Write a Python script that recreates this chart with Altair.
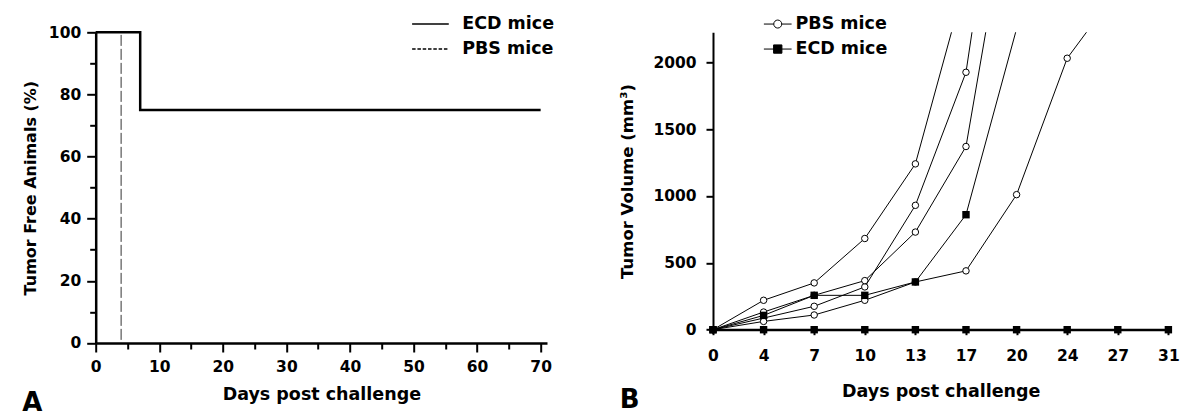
import altair as alt
import pandas as pd

FONT = "DejaVu Sans"

# ---------------- Panel A : tumor free animals (%) ----------------
A_GROUPS = ["ECD mice", "PBS mice"]
A_ECD_DAYS = [0, 7, 70]
A_ECD_PCT = [100, 75, 75]
A_PBS_DAYS = [0, 4]
A_PBS_PCT = [100, 0]
A_X_TICKS = list(range(0, 75, 5))
A_Y_TICKS = list(range(0, 110, 10))

# ---------------- Panel B : tumor volume (mm3) ----------------
B_GROUPS = ["PBS mice", "ECD mice"]
B_DAYS = [0, 4, 7, 10, 13, 17, 20, 24, 27, 31]
PBS_1 = [0, 220, 350, 682, 1240, 2620]
PBS_2 = [0, 87, 175, 320, 930, 1925, 4450]
PBS_3 = [0, 132, 257, 367, 730, 1370, 3560]
PBS_4 = [0, 62, 110, 220, 357, 440, 1010, 2030, 2540]
ECD_1 = [0, 107, 257, 257, 357, 860, 2250]
ECD_0 = [0, 0, 0, 0, 0, 0, 0, 0, 0, 0]
B_Y_TICKS = [0, 500, 1000, 1500, 2000]
B_Y_MAX = 2224

# ---------------- tables ----------------
a_rows = []
for d, p in zip(A_ECD_DAYS, A_ECD_PCT):
    a_rows.append({"day": d, "pct": p, "grp": "ECD mice"})
for d, p in zip(A_PBS_DAYS, A_PBS_PCT):
    a_rows.append({"day": d, "pct": p, "grp": "PBS mice"})
a_df = pd.DataFrame(a_rows)

b_rows = []
for name, grp, vals in [("P1", "PBS mice", PBS_1), ("P2", "PBS mice", PBS_2),
                        ("P3", "PBS mice", PBS_3), ("P4", "PBS mice", PBS_4),
                        ("E1", "ECD mice", ECD_1), ("E0", "ECD mice", ECD_0)]:
    for d, v in zip(B_DAYS, vals):
        b_rows.append({"day": d, "vol": v, "mouse": name, "grp": grp})
b_df = pd.DataFrame(b_rows)

# ---------------- Panel A chart ----------------
a_base = alt.Chart(a_df)
a_x = alt.X("day:Q",
            scale=alt.Scale(domain=[0, 71], nice=False, zero=False),
            axis=alt.Axis(values=A_X_TICKS, title="Days post challenge",
                          labelExpr="datum.value % 10 === 0 ? datum.label : ''",
                          tickSize={"condition": {"test": "datum.value % 10 === 0", "value": 9}, "value": 6},
                          labelPadding=8, titlePadding=10, domainWidth=2.5, tickWidth=2,
                          labelFlush=False, labelOverlap=False))
a_y = alt.Y("pct:Q",
            scale=alt.Scale(domain=[0, 100], nice=False),
            axis=alt.Axis(values=A_Y_TICKS, title="Tumor Free Animals (%)",
                          labelExpr="datum.value % 20 === 0 ? datum.label : ''",
                          tickSize={"condition": {"test": "datum.value % 20 === 0", "value": 9}, "value": 6},
                          labelPadding=6, titlePadding=10, domainWidth=2.5, tickWidth=2,
                          titleFontSize=16, labelFlush=False, labelOverlap=False))

a_pbs = a_base.transform_filter("datum.grp === 'PBS mice'").mark_line(
    interpolate="step-after", color="#333", strokeWidth=1, strokeDash=[11, 3]
).encode(x=a_x, y=a_y)
a_ecd = a_base.transform_filter("datum.grp === 'ECD mice'").mark_line(
    interpolate="step-after", color="black", strokeWidth=2.5
).encode(x=a_x, y=a_y)
a_leg = a_base.transform_filter("false").mark_line(color="black").encode(
    x=a_x, y=a_y,
    strokeDash=alt.StrokeDash("grp:N",
        scale=alt.Scale(domain=A_GROUPS, range=[[1, 0], [3.5, 1.8]]),
        legend=alt.Legend(title=None, orient="none", legendX=326, legendY=-17,
                          symbolType="M-2.5,0L2.5,0", symbolSize=215,
                          symbolStrokeWidth=1.5, symbolStrokeColor="black",
                          labelOffset=23, rowPadding=6,
                          labelFont=FONT, labelFontSize=17.5, labelFontWeight="bold",
                          labelColor="black"))
)
panel_a = alt.layer(a_pbs, a_ecd, a_leg).properties(
    width=451.3, height=310.7,
    title=alt.TitleParams("A", orient="bottom", anchor="start", frame="bounds",
                          font=FONT, fontSize=26, fontWeight="bold", color="black", offset=-13)
)

# ---------------- Panel B chart ----------------
PBS_PATH = ("M-2,0L-0.578,0M0.578,0L2,0M0.578,0"
            "A0.578,0.578,0,1,1,-0.578,0A0.578,0.578,0,1,1,0.578,0Z")
ECD_PATH = "M-2,0L2,0M-0.6,-0.6L0.6,-0.6L0.6,0.6L-0.6,0.6Z"

b_base = alt.Chart(b_df)
b_x = alt.X("day:O",
            scale=alt.Scale(type="point", domain=B_DAYS, padding=0),
            axis=alt.Axis(title="Days post challenge", labelAngle=0, ticks=True, tickSize=5,
                          tickWidth=2, domainWidth=2, labelPadding=14, titlePadding=18,
                          labelFlush=False, labelOverlap=False))
b_y = alt.Y("vol:Q",
            scale=alt.Scale(domain=[0, B_Y_MAX], nice=False),
            axis=alt.Axis(values=B_Y_TICKS, title="Tumor Volume (mm³)", format="d",
                          tickSize=7, tickWidth=2, domainWidth=2, labelPadding=10,
                          titlePadding=17, titleFontSize=16.5, labelFlush=False,
                          labelOverlap=False))

b_lines = b_base.mark_line(clip=True, color="black", strokeWidth=1).encode(
    x=b_x, y=b_y, detail="mouse:N")
b_zero = b_base.transform_filter("datum.mouse === 'E0'").mark_line(
    color="black", strokeWidth=2).encode(x=b_x, y=b_y)
b_circ = b_base.transform_filter("datum.grp === 'PBS mice' && datum.vol <= %d" % B_Y_MAX).mark_point(
    shape="circle", filled=True, fill="white", stroke="black", strokeWidth=1, size=42, opacity=1
).encode(x=b_x, y=b_y)
b_sq = b_base.transform_filter("datum.grp === 'ECD mice' && datum.vol <= %d" % B_Y_MAX).mark_square(
    color="black", size=55, opacity=1
).encode(x=b_x, y=b_y)
b_leg_legend = alt.Legend(title=None, orient="none", legendX=56, legendY=-17,
                          symbolSize=192, symbolStrokeColor="black", symbolStrokeWidth=1,
                          symbolOpacity=1, labelOffset=9, rowPadding=6,
                          labelFont=FONT, labelFontSize=17.5, labelFontWeight="bold",
                          labelColor="black")
b_leg = b_base.transform_filter("false").mark_point(filled=True, strokeWidth=1, opacity=1).encode(
    x=b_x, y=b_y,
    shape=alt.Shape("grp:N", scale=alt.Scale(domain=B_GROUPS, range=[PBS_PATH, ECD_PATH]),
                    legend=b_leg_legend),
    fill=alt.Fill("grp:N", scale=alt.Scale(domain=B_GROUPS, range=["white", "black"]),
                  legend=b_leg_legend),
    stroke=alt.Stroke("grp:N", scale=alt.Scale(domain=B_GROUPS, range=["black", "black"]),
                      legend=b_leg_legend),
)
panel_b = alt.layer(b_lines, b_zero, b_circ, b_sq, b_leg).properties(
    width=455.4, height=297.4,
    title=alt.TitleParams("B", orient="bottom", anchor="start", frame="bounds",
                          font=FONT, fontSize=26, fontWeight="bold", color="black", offset=-13)
)

chart = alt.hconcat(panel_a, panel_b, spacing=165.3, bounds="flush").resolve_legend(
    shape="independent", fill="independent", stroke="independent", strokeDash="independent"
).properties(
    padding={"left": 13.7, "top": 7.3, "right": 5, "bottom": 5}, background="white"
).configure_view(stroke=None).configure_axis(
    domainColor="black", tickColor="black", labelColor="black", titleColor="black",
    labelFont=FONT, titleFont=FONT, labelFontWeight="bold", titleFontWeight="bold",
    labelFontSize=15.5, titleFontSize=17.5, grid=False
)

chart.save("out.html", embed_options={"renderer": "svg", "actions": False})
